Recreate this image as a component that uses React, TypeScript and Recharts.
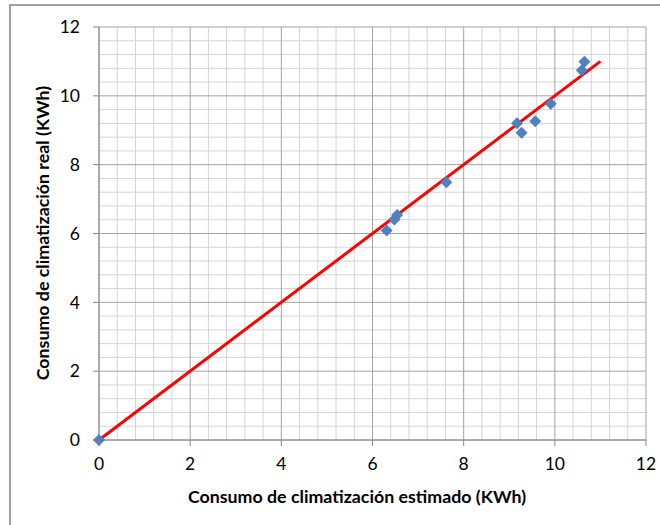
import React from 'react'
import { ScatterChart, Scatter, XAxis, YAxis, CartesianGrid, Label } from 'recharts'

// valores (KWh)
const estimado = [0, 6.31, 6.48, 6.54, 7.62, 9.17, 9.27, 9.57, 9.91, 10.59, 10.65]
const real = [0, 6.09, 6.41, 6.54, 7.49, 9.2, 8.93, 9.26, 9.77, 10.74, 10.99]
const lineaX = [0, 11]
const lineaY = [0, 11]
const ticks = [0, 2, 4, 6, 8, 10, 12]

const puntos = estimado.map((x, i) => ({ x, y: real[i] }))
const linea = lineaX.map((x, i) => ({ x, y: lineaY[i] }))

// rejilla secundaria cada 0.4
const minor: number[] = []
for (let i = 1; i < 30; i++) {
  if (i % 5 !== 0) minor.push(Math.round(i * 0.4 * 10) / 10)
}

const FONT = 'Lato, "Open Sans", sans-serif'

const Rombo = (props: any) => {
  const { cx, cy } = props
  if (cx == null || cy == null) return <g />
  const r = 6
  return (
    <polygon
      points={`${cx},${cy - r} ${cx + r},${cy} ${cx},${cy + r} ${cx - r},${cy}`}
      fill="#4F81BD"
    />
  )
}

const genX = ({ xAxis, offset }: any) =>
  minor.map(v => (xAxis && typeof xAxis.scale === 'function' ? xAxis.scale(v) : offset.left + (v / 12) * offset.width))
const genY = ({ yAxis, offset }: any) =>
  minor.map(v => (yAxis && typeof yAxis.scale === 'function' ? yAxis.scale(v) : offset.top + (1 - v / 12) * offset.height))

export default function App() {
  return (
    <div style={{ position: 'absolute', left: 0, top: 0, width: 660, height: 525, overflow: 'hidden', background: '#fff' }}>
      <div
        style={{
          position: 'absolute',
          left: 9,
          top: 4,
          width: 700,
          height: 600,
          border: '2px solid #a0a0a0',
        }}
      />
      <div style={{ position: 'absolute', left: 0, top: 0 }}>
        <ScatterChart width={660} height={525} margin={{ top: 27, right: 14, left: 30, bottom: 25 }}>
          <CartesianGrid
            stroke="#d4d4d4"
            strokeWidth={1}
            verticalCoordinatesGenerator={genX}
            horizontalCoordinatesGenerator={genY}
          />
          <CartesianGrid stroke="#a3a3a3" strokeWidth={1} />
          <XAxis
            type="number"
            dataKey="x"
            domain={[0, 12]}
            ticks={ticks}
            interval={0}
            height={60}
            axisLine={{ stroke: '#868686' }}
            tickLine={{ stroke: '#868686' }}
            tickSize={6}
            tickMargin={12}
            tick={{ fill: '#000', fontSize: 17.5, fontFamily: FONT }}
          >
            <Label
              content={() => (
                <text
                  x={357}
                  y={496}
                  textAnchor="middle"
                  dominantBaseline="central"
                  fontFamily={FONT}
                  fontWeight="bold"
                  fontSize={17.8}
                  fill="#000"
                >
                  Consumo de climatización estimado (KWh)
                </text>
              )}
            />
          </XAxis>
          <YAxis
            type="number"
            dataKey="y"
            domain={[0, 12]}
            ticks={ticks}
            interval={0}
            width={69}
            axisLine={{ stroke: '#868686' }}
            tickLine={{ stroke: '#868686' }}
            tickSize={6}
            tickMargin={13}
            tick={{ fill: '#000', fontSize: 17.5, fontFamily: FONT }}
          >
            <Label
              content={() => (
                <text
                  x={42}
                  y={233}
                  transform="rotate(-90 42 233)"
                  textAnchor="middle"
                  dominantBaseline="central"
                  fontFamily={FONT}
                  fontWeight="bold"
                  fontSize={17.8}
                  fill="#000"
                >
                  Consumo de climatización real (KWh)
                </text>
              )}
            />
          </YAxis>
          <Scatter
            data={linea}
            line={{ stroke: '#FF0000', strokeWidth: 3 }}
            shape={() => <g />}
            isAnimationActive={false}
          />
          <Scatter data={puntos} shape={Rombo} isAnimationActive={false} />
        </ScatterChart>
      </div>
    </div>
  )
}
